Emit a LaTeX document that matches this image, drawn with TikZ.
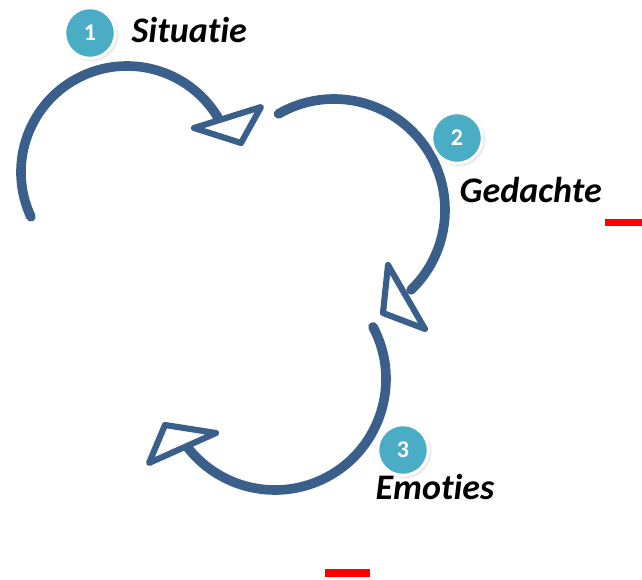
\documentclass[tikz,border=0pt]{standalone}
\usepackage{fontspec}
\setmainfont{Carlito}[Ligatures=NoCommon]
\usetikzlibrary{shadows}
\definecolor{arcblue}{HTML}{3A5F8B}
\definecolor{badgeteal}{HTML}{4BACC6}
\begin{document}
\begin{tikzpicture}[x=0.75pt,y=-0.75pt,
  cyclearc/.style={arcblue, line width=7.2pt, line cap=round},
  tip/.style={arcblue, line width=4.6pt, line join=round, fill=white},
  badge/.style={circle, fill=badgeteal, draw=white, line width=2.3pt,
    minimum size=38pt, inner sep=0pt, text=white,
    font=\bfseries\fontsize{18}{18}\selectfont,
    circular drop shadow={shadow xshift=0.8pt, shadow yshift=-0.8pt, opacity=0.3}},
  stage/.style={anchor=base west, font=\bfseries\itshape\fontsize{27}{27}\selectfont}]
  \useasboundingbox (0,0) rectangle (642,579);

  % situatie -> gedachte
  \draw[cyclearc] (127,172) ++(155:106) arc[start angle=155, end angle=331, radius=106];
  \filldraw[tip] (194,128) -- (261,107) -- (241,143) -- cycle;

  % gedachte -> emoties
  \draw[cyclearc] (334,210) ++(240:111) arc[start angle=240, end angle=406, radius=111];
  \filldraw[tip] (388,265) -- (425,329) -- (383,313) -- cycle;

  % emoties -> back
  \draw[cyclearc] (275,379) ++(-28:111) arc[start angle=-28, end angle=144, radius=111];
  \filldraw[tip] (216,433) -- (149,463) -- (165,425) -- cycle;

  \node[badge] (s1) at (90,33) {1};
  \node[stage] (t1) at (127,42) {Situatie};
  \node[badge] (s2) at (457,138) {2};
  \node[stage] (t2) at (455,202) {Gedachte};
  \node[badge] (s3) at (403,450) {3};
  \node[stage] (t3) at (371,499) {Emoties};

  \fill[red] (605,219) rectangle (642,226);
  \fill[red] (325,569) rectangle (370,577);
\end{tikzpicture}
\end{document}
